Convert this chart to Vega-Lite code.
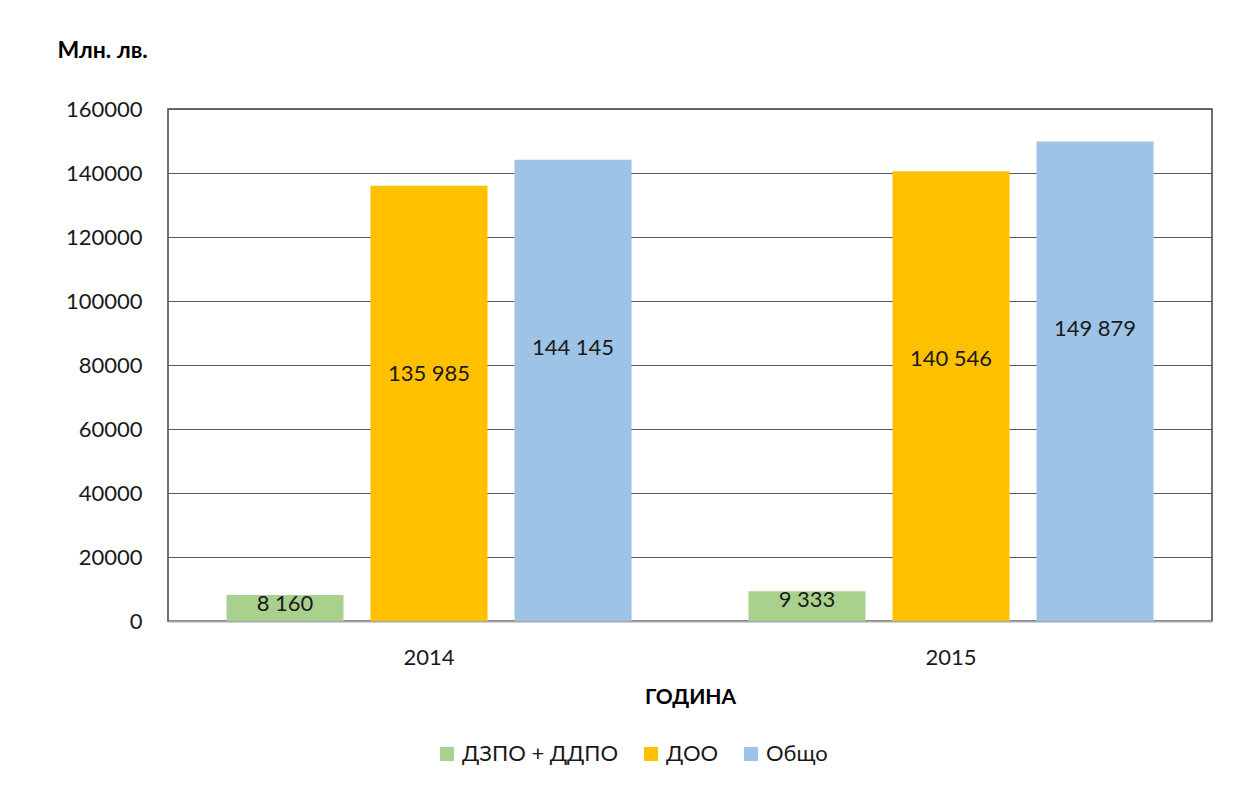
{
  "$schema": "https://vega.github.io/schema/vega-lite/v6.json",
  "width": 1044,
  "height": 512,
  "autosize": {"type": "none"},
  "padding": {"left": 168, "top": 109, "right": 25, "bottom": 166},
  "background": "white",
  "config": {
    "font": "Lato",
    "locale": {"number": {"decimal": ",", "thousands": " ", "grouping": [3], "currency": ["", ""]}},
    "view": {"stroke": "#404040", "strokeWidth": 1.5},
    "axis": {"labelFont": "Lato", "titleFont": "Lato", "labelColor": "#1a1a1a", "titleColor": "#000000"}
  },
  "data": {
    "values": [
      {"year": "2014", "series": "ДЗПО + ДДПО", "value": 8160},
      {"year": "2014", "series": "ДОО", "value": 135985},
      {"year": "2014", "series": "Общо", "value": 144145},
      {"year": "2015", "series": "ДЗПО + ДДПО", "value": 9333},
      {"year": "2015", "series": "ДОО", "value": 140546},
      {"year": "2015", "series": "Общо", "value": 149879}
    ]
  },
  "encoding": {
    "x": {
      "field": "year", "type": "nominal",
      "scale": {"paddingInner": 0, "paddingOuter": 0},
      "axis": {
        "title": "ГОДИНА", "titleFontSize": 21, "titleFontWeight": "bold", "titlePadding": 18,
        "labelAngle": 0, "labelFontSize": 22, "labelPadding": 26, "ticks": false,
        "domainColor": "#a6a6a6", "domainWidth": 2
      }
    },
    "xOffset": {
      "field": "series", "type": "nominal",
      "sort": ["ДЗПО + ДДПО", "ДОО", "Общо"],
      "scale": {"paddingInner": 0.1875, "paddingOuter": 0.406}
    },
    "y": {
      "field": "value", "type": "quantitative",
      "scale": {"domain": [0, 160000], "nice": false},
      "axis": {
        "title": "Млн. лв.", "titleAngle": 0, "titleAlign": "left", "titleBaseline": "middle",
        "titleX": -111, "titleY": -59, "titleFontSize": 23, "titleFontWeight": "bold",
        "values": [0, 20000, 40000, 60000, 80000, 100000, 120000, 140000, 160000],
        "format": "d", "labelFontSize": 22, "labelPadding": 26, "ticks": false, "domain": false,
        "grid": true, "gridColor": "#595959", "gridWidth": 1.2
      }
    }
  },
  "layer": [
    {
      "mark": {"type": "bar"},
      "encoding": {
        "color": {
          "field": "series", "type": "nominal",
          "sort": ["ДЗПО + ДДПО", "ДОО", "Общо"],
          "scale": {"domain": ["ДЗПО + ДДПО", "ДОО", "Общо"], "range": ["#A9D18E", "#FFC000", "#9DC3E6"]},
          "legend": {
            "title": null, "orient": "none", "direction": "horizontal",
            "legendX": 268, "legendY": 634,
            "symbolType": "square", "symbolSize": 196, "symbolStrokeWidth": 0,
            "labelFontSize": 22, "labelColor": "#1a1a1a", "labelOffset": 4, "columnPadding": 21
          }
        }
      }
    },
    {
      "transform": [{"filter": "datum.value > 50000"}],
      "mark": {"type": "text", "baseline": "middle", "dy": 188, "fontSize": 22, "color": "#1a1a1a"},
      "encoding": {"text": {"field": "value", "type": "quantitative", "format": ",d"}}
    },
    {
      "transform": [{"filter": "datum.value <= 50000"}],
      "mark": {"type": "text", "baseline": "middle", "dy": 9, "fontSize": 22, "color": "#1a1a1a"},
      "encoding": {"text": {"field": "value", "type": "quantitative", "format": ",d"}}
    }
  ]
}
